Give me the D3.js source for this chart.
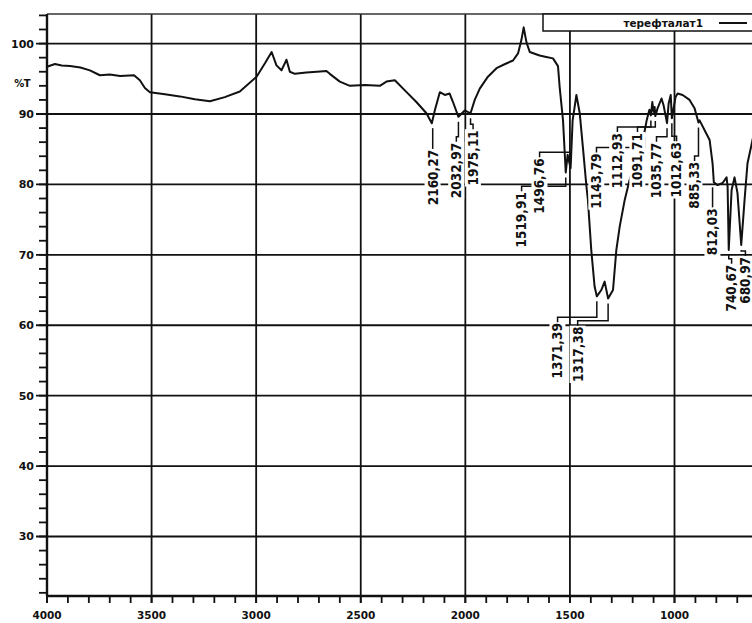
<!DOCTYPE html>
<html>
<head>
<meta charset="utf-8">
<script src="https://cdn.jsdelivr.net/npm/d3@7"></script>
<style>
  html, body { margin: 0; padding: 0; background: #fff; }
  svg { display: block; }
</style>
</head>
<body>
<svg id="chart" width="752" height="623"></svg>
<script>
// IR trace: wavenumber (cm-1) and %T
const wavenumbers = [
  4000, 3962, 3930, 3890, 3840, 3795, 3747, 3700, 3650, 3584, 3556, 3532, 3508, 3436, 3365, 3293, 3221, 3150, 3078,
  2998, 2958, 2926, 2903, 2879, 2855, 2839, 2815, 2760, 2710, 2664, 2648, 2600, 2552, 2480, 2409, 2377, 2337,
  2281, 2234, 2186, 2160.27, 2146, 2122, 2098, 2075, 2059, 2032.97, 2003, 1975.11, 1955, 1931,
  1892, 1851, 1810, 1772, 1748, 1732, 1721, 1708, 1692, 1645, 1613, 1581, 1557, 1549, 1533, 1519.91,
  1511, 1496.76, 1487, 1469, 1453, 1438, 1421, 1414, 1398, 1382, 1371.39, 1350, 1334, 1317.38,
  1294, 1278, 1262, 1238, 1215, 1167, 1143.79, 1133, 1120, 1112.93, 1106, 1100, 1095, 1091.71,
  1081, 1062, 1052, 1035.77, 1028, 1018, 1012.63, 995, 985, 961, 928, 904, 885.33, 880, 856,
  832, 818, 812.03, 794, 770, 751, 746, 740.67, 727, 713, 699, 680.97, 665, 651, 632, 615
];
const transmittance = [
  96.7, 97.1, 96.9, 96.8, 96.6, 96.2, 95.5, 95.6, 95.4, 95.5, 94.8, 93.7, 93.1, 92.8, 92.5, 92.1, 91.8, 92.4, 93.2,
  95.3, 97.2, 98.8, 96.9, 96.2, 97.7, 96.0, 95.7, 95.9, 96.0, 96.1, 95.7, 94.6, 94.0, 94.1, 94.0, 94.6, 94.8,
  93.1, 91.7, 90.1, 88.7, 90.5, 93.1, 92.7, 92.9, 91.7, 89.6, 90.5, 90.1, 92.0, 93.6,
  95.3, 96.5, 97.1, 97.6, 98.6, 100.5, 102.3, 100.2, 98.8, 98.3, 98.1, 97.9, 96.8, 93.8, 89.1, 81.7,
  84.2, 82.3, 89.1, 92.7, 90.1, 85.3, 79.7, 77.8, 70.7, 65.5, 64.1, 65.0, 66.2, 63.8,
  65.0, 70.7, 74.0, 77.8, 80.6, 85.3, 87.4, 89.1, 90.6, 89.8, 91.7, 90.3, 91.0, 89.7,
  90.8, 92.2, 91.2, 88.7, 91.5, 92.7, 89.4, 92.4, 92.9, 92.7, 92.0, 90.8, 88.8, 89.1, 87.7,
  86.3, 83.0, 80.3, 79.9, 80.2, 81.0, 79.6, 70.7, 79.2, 81.0, 78.8, 71.4, 77.8, 83.0, 85.6, 88.0
];

// labelled peaks
const peakWn = [2160.27, 2032.97, 1975.11, 1519.91, 1496.76, 1371.39, 1317.38, 1143.79,
  1112.93, 1091.71, 1035.77, 1012.63, 885.33, 812.03, 740.67, 680.97];
const peakT = [88.7, 89.6, 90.1, 81.7, 82.3, 64.1, 63.8, 87.4,
  89.8, 89.7, 88.7, 89.4, 88.8, 80.3, 70.7, 71.4];
// where each rotated label sits (data units: centre wavenumber, %T at its top)
const labelWn = [2156, 2043, 1963, 1731, 1645, 1559, 1463, 1373,
  1273, 1177, 1086, 990, 904, 818, 727, 661];
const labelTopT = [84.9, 85.9, 87.7, 78.9, 83.7, 60.3, 59.8, 84.4,
  87.3, 87.3, 85.9, 86.0, 83.2, 76.6, 68.6, 69.7];

const yTicks = [100, 90, 80, 70, 60, 50, 40, 30];
const xTicks = [4000, 3500, 3000, 2500, 2000, 1500, 1000];
const yUnit = '%T';
const legendName = 'терефталат1';

const svg = d3.select('#chart');
const plotLeft = 47, plotTop = 14, plotBottom = 596, plotRight = 800;

const x = d3.scaleLinear().domain([4000, 400]).range([plotLeft, plotRight]);
const y = d3.scaleLinear().domain([21.55, 104.2]).range([plotBottom, plotTop]);

const ink = '#111';
const axisFont = 'DejaVu Sans, Verdana, sans-serif';
const peakFont = '"Liberation Sans Narrow", "DejaVu Sans Condensed", sans-serif';

// minor ticks
const yMinor = d3.range(22, 105, 2);
svg.append('g').selectAll('line').data(yMinor).enter().append('line')
  .attr('x1', plotLeft - 8).attr('x2', plotLeft)
  .attr('y1', d => y(d)).attr('y2', d => y(d))
  .attr('stroke', ink).attr('stroke-width', 1.8);

const xMinor = d3.range(4000, 600, -100);
svg.append('g').selectAll('line').data(xMinor).enter().append('line')
  .attr('x1', d => x(d)).attr('x2', d => x(d))
  .attr('y1', plotBottom).attr('y2', plotBottom + 7)
  .attr('stroke', ink).attr('stroke-width', 1.8);

// grid
svg.append('g').selectAll('line').data(yTicks).enter().append('line')
  .attr('x1', plotLeft - 11).attr('x2', plotRight)
  .attr('y1', d => y(d)).attr('y2', d => y(d))
  .attr('stroke', ink).attr('stroke-width', 1.8);

svg.append('g').selectAll('line').data(xTicks).enter().append('line')
  .attr('x1', d => x(d)).attr('x2', d => x(d))
  .attr('y1', plotTop).attr('y2', plotBottom + 7)
  .attr('stroke', ink).attr('stroke-width', 1.8);

// frame
svg.append('line').attr('x1', plotLeft).attr('x2', plotRight).attr('y1', plotTop).attr('y2', plotTop)
  .attr('stroke', '#333').attr('stroke-width', 1.5);
svg.append('line').attr('x1', plotLeft).attr('x2', plotLeft).attr('y1', plotTop).attr('y2', plotBottom)
  .attr('stroke', ink).attr('stroke-width', 2.4);
svg.append('line').attr('x1', plotLeft).attr('x2', plotRight).attr('y1', plotBottom).attr('y2', plotBottom)
  .attr('stroke', ink).attr('stroke-width', 2.4);

// tick labels
svg.append('g').selectAll('text').data(yTicks).enter().append('text')
  .attr('x', plotLeft - 13).attr('y', d => y(d)).attr('dy', '0.36em')
  .attr('text-anchor', 'end')
  .attr('font-family', axisFont).attr('font-weight', 'bold').attr('font-size', 11)
  .attr('fill', ink).text(d => d);

svg.append('text')
  .attr('x', 30).attr('y', y(94.4)).attr('dy', '0.36em')
  .attr('text-anchor', 'end')
  .attr('font-family', axisFont).attr('font-weight', 'bold').attr('font-size', 10)
  .attr('letter-spacing', '-0.5px')
  .attr('fill', ink).text(yUnit);

svg.append('g').selectAll('text').data(xTicks).enter().append('text')
  .attr('x', d => x(d)).attr('y', 619)
  .attr('text-anchor', 'middle')
  .attr('font-family', axisFont).attr('font-weight', 'bold').attr('font-size', 10.5)
  .attr('fill', ink).text(d => d);

// spectrum
const trace = wavenumbers.map((w, i) => [w, transmittance[i]]);
const line = d3.line().x(d => x(d[0])).y(d => y(d[1]));
svg.append('path').datum(trace)
  .attr('d', line)
  .attr('fill', 'none').attr('stroke', ink).attr('stroke-width', 2)
  .attr('stroke-linejoin', 'round');

// peak labels with leaders
const fmt = v => v.toFixed(2).replace('.', ',');
const labels = svg.append('g');
peakWn.forEach((w, i) => {
  const px = x(w), py = y(peakT[i]);
  const lx = x(labelWn[i]), ly = y(labelTopT[i]);

  const g = labels.append('g').attr('transform', `translate(${lx},${ly}) rotate(-90)`);
  const t = g.append('text')
    .attr('text-anchor', 'end').attr('dy', '0.36em')
    .attr('font-family', peakFont).attr('font-weight', 'bold').attr('font-size', 13.5)
    .attr('fill', ink).text(fmt(w));
  const bb = t.node().getBBox();
  g.insert('rect', 'text')
    .attr('x', bb.x - 1).attr('y', bb.y).attr('width', bb.width + 2).attr('height', bb.height)
    .attr('fill', '#fff');

  const elbow = ly - 6;
  const startY = py < elbow ? py + 5 : py - 5;
  const pts = Math.abs(px - lx) < 2
    ? [[lx, startY], [lx, ly - 1]]
    : [[px, startY], [px, elbow], [lx, elbow], [lx, ly - 1]];
  labels.append('path')
    .attr('d', d3.line()(pts))
    .attr('fill', 'none').attr('stroke', ink).attr('stroke-width', 1.5);
});

// legend
const lg = svg.append('g');
lg.append('rect').attr('x', 543).attr('y', plotTop).attr('width', 240).attr('height', 17)
  .attr('fill', '#fff').attr('stroke', ink).attr('stroke-width', 1.5);
lg.append('text').attr('x', 703).attr('y', 27).attr('text-anchor', 'end')
  .attr('font-family', axisFont).attr('font-weight', 'bold').attr('font-size', 10.5)
  .attr('fill', ink).text(legendName);
lg.append('line').attr('x1', 719).attr('x2', 747).attr('y1', 23).attr('y2', 23)
  .attr('stroke', ink).attr('stroke-width', 2);
</script>
</body>
</html>
